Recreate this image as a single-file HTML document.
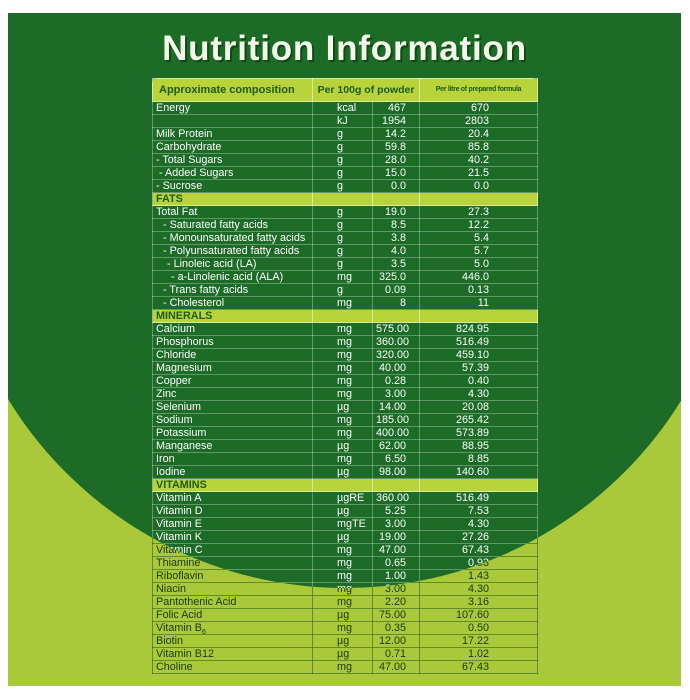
<!DOCTYPE html>
<html><head><meta charset="utf-8"><style>
html,body{margin:0;padding:0;background:#fff;}
body{width:690px;height:700px;position:relative;overflow:hidden;font-family:"Liberation Sans",sans-serif;}
.panel{position:absolute;left:8px;top:13px;width:673px;height:673px;overflow:hidden;}
.layer{position:absolute;left:0;top:0;width:673px;height:673px;}
.light{background:#a9c83a;}
.dark{background:#1c6b26;clip-path:circle(395px at 337px 180px);}
.title{position:absolute;left:0;top:16px;width:673px;text-align:center;font-size:35px;font-weight:bold;color:#f4f8e8;text-shadow:2px 2px 0 #0f4a16;letter-spacing:0.8px;}
table{position:absolute;left:144px;top:65px;width:385px;border-collapse:collapse;table-layout:fixed;font-size:10.8px;}
td{height:12px;line-height:12px;padding:0 0 0 3px;white-space:nowrap;overflow:visible;}
td:nth-child(2){padding-left:24px;}
td:nth-child(3){text-align:right;padding-right:13px;}
td:nth-child(4){text-align:right;padding-right:48px;}
.light td{color:#1b3a12;border:1px solid rgba(40,90,30,0.55);}
.dark td{color:#fff;border:1px solid rgba(255,255,255,0.3);}
tr.h td{background:#b8d43a;color:#1e5b1c;font-weight:bold;height:22px;line-height:22px;border-color:rgba(255,255,255,0.5);}
tr.h td.a{font-size:11px;padding-left:6px;}
tr.h td.b{text-align:center;font-size:10.5px;padding:0;}
tr.h td.c{text-align:center;font-size:7px;padding:0;letter-spacing:-0.3px;}
tr.s td{background:#b8d43a;color:#1e5b1c;font-weight:bold;border-color:rgba(255,255,255,0.5);}
.i1{padding-left:6px!important}.i2{padding-left:10px!important}.i3{padding-left:14px!important}.i4{padding-left:18px!important}
.hdrbg{position:absolute;left:144px;top:65px;width:385px;height:24px;border-radius:5px 5px 0 0;background:#b8d43a;}
sub{font-size:7px;line-height:0;}
</style></head><body>
<div class="panel">
<div class="layer light">
<div class="hdrbg"></div>
<table>
<colgroup><col style="width:160px"><col style="width:60px"><col style="width:47px"><col style="width:118px"></colgroup>
<tr class="h"><td class="a">Approximate composition</td><td class="b" colspan="2">Per 100g of powder</td><td class="c">Per litre of prepared formula</td></tr>
<tr><td>Energy</td><td>kcal</td><td>467</td><td>670</td></tr>
<tr><td></td><td>kJ</td><td>1954</td><td>2803</td></tr>
<tr><td>Milk Protein</td><td>g</td><td>14.2</td><td>20.4</td></tr>
<tr><td>Carbohydrate</td><td>g</td><td>59.8</td><td>85.8</td></tr>
<tr><td>- Total Sugars</td><td>g</td><td>28.0</td><td>40.2</td></tr>
<tr><td class="i1">- Added Sugars</td><td>g</td><td>15.0</td><td>21.5</td></tr>
<tr><td>- Sucrose</td><td>g</td><td>0.0</td><td>0.0</td></tr>
<tr class="s"><td>FATS</td><td></td><td></td><td></td></tr>
<tr><td>Total Fat</td><td>g</td><td>19.0</td><td>27.3</td></tr>
<tr><td class="i2">- Saturated fatty acids</td><td>g</td><td>8.5</td><td>12.2</td></tr>
<tr><td class="i2">- Monounsaturated fatty acids</td><td>g</td><td>3.8</td><td>5.4</td></tr>
<tr><td class="i2">- Polyunsaturated fatty acids</td><td>g</td><td>4.0</td><td>5.7</td></tr>
<tr><td class="i3">- Linoleic acid (LA)</td><td>g</td><td>3.5</td><td>5.0</td></tr>
<tr><td class="i4">- a-Linolenic acid (ALA)</td><td>mg</td><td>325.0</td><td>446.0</td></tr>
<tr><td class="i2">- Trans fatty acids</td><td>g</td><td>0.09</td><td>0.13</td></tr>
<tr><td class="i2">- Cholesterol</td><td>mg</td><td>8</td><td>11</td></tr>
<tr class="s"><td>MINERALS</td><td></td><td></td><td></td></tr>
<tr><td>Calcium</td><td>mg</td><td>575.00</td><td>824.95</td></tr>
<tr><td>Phosphorus</td><td>mg</td><td>360.00</td><td>516.49</td></tr>
<tr><td>Chloride</td><td>mg</td><td>320.00</td><td>459.10</td></tr>
<tr><td>Magnesium</td><td>mg</td><td>40.00</td><td>57.39</td></tr>
<tr><td>Copper</td><td>mg</td><td>0.28</td><td>0.40</td></tr>
<tr><td>Zinc</td><td>mg</td><td>3.00</td><td>4.30</td></tr>
<tr><td>Selenium</td><td>µg</td><td>14.00</td><td>20.08</td></tr>
<tr><td>Sodium</td><td>mg</td><td>185.00</td><td>265.42</td></tr>
<tr><td>Potassium</td><td>mg</td><td>400.00</td><td>573.89</td></tr>
<tr><td>Manganese</td><td>µg</td><td>62.00</td><td>88.95</td></tr>
<tr><td>Iron</td><td>mg</td><td>6.50</td><td>8.85</td></tr>
<tr><td>Iodine</td><td>µg</td><td>98.00</td><td>140.60</td></tr>
<tr class="s"><td>VITAMINS</td><td></td><td></td><td></td></tr>
<tr><td>Vitamin A</td><td>µgRE</td><td>360.00</td><td>516.49</td></tr>
<tr><td>Vitamin D</td><td>µg</td><td>5.25</td><td>7.53</td></tr>
<tr><td>Vitamin E</td><td>mgTE</td><td>3.00</td><td>4.30</td></tr>
<tr><td>Vitamin K</td><td>µg</td><td>19.00</td><td>27.26</td></tr>
<tr><td>Vitamin C</td><td>mg</td><td>47.00</td><td>67.43</td></tr>
<tr><td>Thiamine</td><td>mg</td><td>0.65</td><td>0.93</td></tr>
<tr><td>Riboflavin</td><td>mg</td><td>1.00</td><td>1.43</td></tr>
<tr><td>Niacin</td><td>mg</td><td>3.00</td><td>4.30</td></tr>
<tr><td>Pantothenic Acid</td><td>mg</td><td>2.20</td><td>3.16</td></tr>
<tr><td>Folic Acid</td><td>µg</td><td>75.00</td><td>107.60</td></tr>
<tr><td>Vitamin B<sub>6</sub></td><td>mg</td><td>0.35</td><td>0.50</td></tr>
<tr><td>Biotin</td><td>µg</td><td>12.00</td><td>17.22</td></tr>
<tr><td>Vitamin B12</td><td>µg</td><td>0.71</td><td>1.02</td></tr>
<tr><td>Choline</td><td>mg</td><td>47.00</td><td>67.43</td></tr>
</table>
</div>
<div class="layer dark">
<div class="title">Nutrition Information</div>
<div class="hdrbg"></div>
<table>
<colgroup><col style="width:160px"><col style="width:60px"><col style="width:47px"><col style="width:118px"></colgroup>
<tr class="h"><td class="a">Approximate composition</td><td class="b" colspan="2">Per 100g of powder</td><td class="c">Per litre of prepared formula</td></tr>
<tr><td>Energy</td><td>kcal</td><td>467</td><td>670</td></tr>
<tr><td></td><td>kJ</td><td>1954</td><td>2803</td></tr>
<tr><td>Milk Protein</td><td>g</td><td>14.2</td><td>20.4</td></tr>
<tr><td>Carbohydrate</td><td>g</td><td>59.8</td><td>85.8</td></tr>
<tr><td>- Total Sugars</td><td>g</td><td>28.0</td><td>40.2</td></tr>
<tr><td class="i1">- Added Sugars</td><td>g</td><td>15.0</td><td>21.5</td></tr>
<tr><td>- Sucrose</td><td>g</td><td>0.0</td><td>0.0</td></tr>
<tr class="s"><td>FATS</td><td></td><td></td><td></td></tr>
<tr><td>Total Fat</td><td>g</td><td>19.0</td><td>27.3</td></tr>
<tr><td class="i2">- Saturated fatty acids</td><td>g</td><td>8.5</td><td>12.2</td></tr>
<tr><td class="i2">- Monounsaturated fatty acids</td><td>g</td><td>3.8</td><td>5.4</td></tr>
<tr><td class="i2">- Polyunsaturated fatty acids</td><td>g</td><td>4.0</td><td>5.7</td></tr>
<tr><td class="i3">- Linoleic acid (LA)</td><td>g</td><td>3.5</td><td>5.0</td></tr>
<tr><td class="i4">- a-Linolenic acid (ALA)</td><td>mg</td><td>325.0</td><td>446.0</td></tr>
<tr><td class="i2">- Trans fatty acids</td><td>g</td><td>0.09</td><td>0.13</td></tr>
<tr><td class="i2">- Cholesterol</td><td>mg</td><td>8</td><td>11</td></tr>
<tr class="s"><td>MINERALS</td><td></td><td></td><td></td></tr>
<tr><td>Calcium</td><td>mg</td><td>575.00</td><td>824.95</td></tr>
<tr><td>Phosphorus</td><td>mg</td><td>360.00</td><td>516.49</td></tr>
<tr><td>Chloride</td><td>mg</td><td>320.00</td><td>459.10</td></tr>
<tr><td>Magnesium</td><td>mg</td><td>40.00</td><td>57.39</td></tr>
<tr><td>Copper</td><td>mg</td><td>0.28</td><td>0.40</td></tr>
<tr><td>Zinc</td><td>mg</td><td>3.00</td><td>4.30</td></tr>
<tr><td>Selenium</td><td>µg</td><td>14.00</td><td>20.08</td></tr>
<tr><td>Sodium</td><td>mg</td><td>185.00</td><td>265.42</td></tr>
<tr><td>Potassium</td><td>mg</td><td>400.00</td><td>573.89</td></tr>
<tr><td>Manganese</td><td>µg</td><td>62.00</td><td>88.95</td></tr>
<tr><td>Iron</td><td>mg</td><td>6.50</td><td>8.85</td></tr>
<tr><td>Iodine</td><td>µg</td><td>98.00</td><td>140.60</td></tr>
<tr class="s"><td>VITAMINS</td><td></td><td></td><td></td></tr>
<tr><td>Vitamin A</td><td>µgRE</td><td>360.00</td><td>516.49</td></tr>
<tr><td>Vitamin D</td><td>µg</td><td>5.25</td><td>7.53</td></tr>
<tr><td>Vitamin E</td><td>mgTE</td><td>3.00</td><td>4.30</td></tr>
<tr><td>Vitamin K</td><td>µg</td><td>19.00</td><td>27.26</td></tr>
<tr><td>Vitamin C</td><td>mg</td><td>47.00</td><td>67.43</td></tr>
<tr><td>Thiamine</td><td>mg</td><td>0.65</td><td>0.93</td></tr>
<tr><td>Riboflavin</td><td>mg</td><td>1.00</td><td>1.43</td></tr>
<tr><td>Niacin</td><td>mg</td><td>3.00</td><td>4.30</td></tr>
<tr><td>Pantothenic Acid</td><td>mg</td><td>2.20</td><td>3.16</td></tr>
<tr><td>Folic Acid</td><td>µg</td><td>75.00</td><td>107.60</td></tr>
<tr><td>Vitamin B<sub>6</sub></td><td>mg</td><td>0.35</td><td>0.50</td></tr>
<tr><td>Biotin</td><td>µg</td><td>12.00</td><td>17.22</td></tr>
<tr><td>Vitamin B12</td><td>µg</td><td>0.71</td><td>1.02</td></tr>
<tr><td>Choline</td><td>mg</td><td>47.00</td><td>67.43</td></tr>
</table>
</div>
</div>
</body></html>
